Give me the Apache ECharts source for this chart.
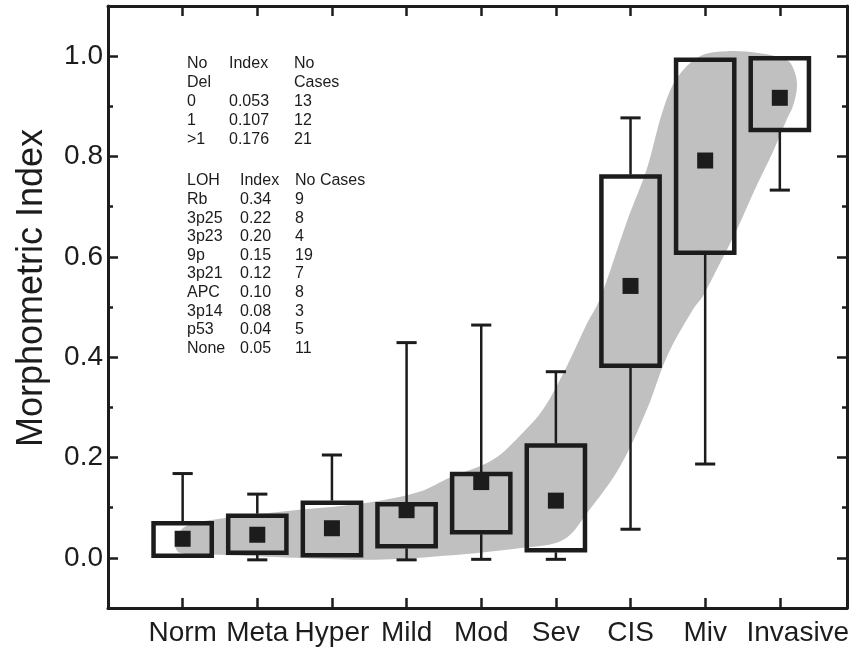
<!DOCTYPE html>
<html>
<head>
<meta charset="utf-8">
<script src="https://cdn.jsdelivr.net/npm/echarts@6/dist/echarts.min.js"></script>
<style>
html, body { margin: 0; padding: 0; background: #fff; }
#main { width: 856px; height: 651px; }
</style>
</head>
<body>
<div id="main"></div>
<script>
var categories = ['Norm', 'Meta', 'Hyper', 'Mild', 'Mod', 'Sev', 'CIS', 'Miv', 'Invasive'];
var whiskerLow = [null, -0.004, null, -0.004, -0.003, -0.003, 0.057, 0.187, 0.733];
var boxLow = [0.0, 0.006, 0.001, 0.019, 0.047, 0.011, 0.379, 0.604, 0.849];
var boxHigh = [0.073, 0.088, 0.114, 0.111, 0.171, 0.228, 0.764, 0.997, 1.0];
var whiskerHigh = [0.168, 0.127, 0.205, 0.429, 0.464, 0.371, 0.877, null, null];
var meanIndex = [0.038, 0.046, 0.059, 0.095, 0.151, 0.114, 0.542, 0.792, 0.917];

// grey trend band: upper edge left->right, lower edge right->left
var bandUpper = [[0.90, 0.03], [1.03, 0.062], [1.50, 0.078], [2.50, 0.095], [3.48, 0.11],
    [4.18, 0.132], [4.58, 0.16], [5.16, 0.196], [5.56, 0.25], [5.83, 0.296], [6.15, 0.383],
    [6.42, 0.468], [6.59, 0.516], [6.95, 0.67], [7.22, 0.776], [7.43, 0.89], [7.62, 0.956],
    [7.93, 1.0], [8.29, 1.01], [8.73, 1.006], [9.10, 0.992], [9.20, 0.968]];
var bandLower = [[9.23, 0.94], [9.18, 0.902], [9.10, 0.876], [8.91, 0.81], [8.69, 0.742],
    [8.43, 0.656], [8.16, 0.576], [7.97, 0.522], [7.84, 0.496], [7.49, 0.402], [7.22, 0.296],
    [6.86, 0.182], [6.42, 0.09], [6.10, 0.036], [5.56, 0.02], [4.35, 0.002], [3.48, -0.004],
    [2.50, 0.0], [1.50, 0.006], [0.96, 0.01]];

var delRows = [['No', 'Index', 'No'], ['Del', '', 'Cases'], ['0', '0.053', '13'], ['1', '0.107', '12'], ['>1', '0.176', '21']];
var lohRows = [['LOH', 'Index', 'No Cases'], ['Rb', '0.34', '9'], ['3p25', '0.22', '8'], ['3p23', '0.20', '4'],
    ['9p', '0.15', '19'], ['3p21', '0.12', '7'], ['APC', '0.10', '8'], ['3p14', '0.08', '3'],
    ['p53', '0.04', '5'], ['None', '0.05', '11']];

var ink = '#1c1c1c';
var font = "'Liberation Sans', Arial, Helvetica, sans-serif";

function $each(arr, fn) { for (var i = 0; i < arr.length; i++) fn(arr[i], i); }

function tableText(rows, cols, top, step) {
    var out = [];
    $each(rows, function (r, ri) {
        $each(r, function (txt, ci) {
            if (!txt) return;
            out.push({
                type: 'text',
                left: cols[ci],
                top: top + ri * step - 9,
                silent: true,
                style: {text: txt, fill: ink, font: '16px ' + font}
            });
        });
    });
    return out;
}

var boxData = [];
var meanData = [];
$each(categories, function (c, i) {
    boxData.push([i + 1, boxLow[i], boxHigh[i]]);
    meanData.push([i + 1, meanIndex[i]]);
});

function renderBand(params, api) {
    var pts = bandUpper.concat(bandLower).map(function (p) { return api.coord(p); });
    return {type: 'polygon', shape: {points: pts, smooth: 0.35}, style: {fill: '#c0c0c0'}};
}

function renderBox(params, api) {
    var i = params.dataIndex;
    var x = api.value(0);
    var halfW = api.size([0.78, 0])[0] / 2;
    var capW = api.size([0.27, 0])[0] / 2;
    var pLo = api.coord([x, api.value(1)]);
    var pHi = api.coord([x, api.value(2)]);
    var children = [];
    var line = {stroke: ink, lineWidth: 2.5};
    if (whiskerHigh[i] != null) {
        var w = api.coord([x, whiskerHigh[i]]);
        children.push({type: 'line', shape: {x1: w[0], y1: pHi[1], x2: w[0], y2: w[1]}, style: line});
        children.push({type: 'line', shape: {x1: w[0] - capW, y1: w[1], x2: w[0] + capW, y2: w[1]}, style: {stroke: ink, lineWidth: 3}});
    }
    if (whiskerLow[i] != null) {
        var v = api.coord([x, whiskerLow[i]]);
        children.push({type: 'line', shape: {x1: v[0], y1: pLo[1], x2: v[0], y2: v[1]}, style: line});
        children.push({type: 'line', shape: {x1: v[0] - capW, y1: v[1], x2: v[0] + capW, y2: v[1]}, style: {stroke: ink, lineWidth: 3}});
    }
    children.push({
        type: 'rect',
        shape: {x: pLo[0] - halfW, y: pHi[1] + 2, width: halfW * 2, height: pLo[1] - pHi[1] - 4},
        style: {fill: 'none', stroke: ink, lineWidth: 4.5}
    });
    return {type: 'group', children: children};
}

// grid 0: frame, minor ticks (every 0.1), labels; grid 1: major ticks (auto 0.2 step)
function yAxisMinor(pos, showLabel) {
    return {
        gridIndex: 0, type: 'value', position: pos, min: -0.1, max: 1.1, interval: 0.1,
        name: showLabel ? 'Morphometric Index' : '',
        nameLocation: 'middle', nameGap: 58,
        nameTextStyle: {fontSize: 36, color: ink, fontFamily: font, padding: [0, 0, 0, 38]},
        axisLine: {show: true, onZero: false, lineStyle: {color: ink, width: 3}},
        axisTick: {show: true, inside: true, length: 5, lineStyle: {color: ink, width: 2.5}},
        axisLabel: {
            show: showLabel, margin: 5, fontSize: 28, color: ink, fontFamily: font,
            formatter: function (v) {
                var k = Math.round(v * 10);
                return (k >= 0 && k <= 10 && k % 2 === 0) ? (k / 10).toFixed(1) : '';
            }
        },
        splitLine: {show: false}
    };
}
function yAxisMajor(pos) {
    return {
        gridIndex: 1, type: 'value', position: pos, min: -0.1, max: 1.1, splitNumber: 6,
        axisLine: {show: false},
        axisTick: {show: true, inside: true, length: 10, lineStyle: {color: ink, width: 2.5}},
        axisLabel: {show: false},
        splitLine: {show: false}
    };
}

function xAxisOne(pos, showLabel) {
    return {
        gridIndex: 0, type: 'value', position: pos, min: 0, max: 9.9, interval: 1,
        axisLine: {show: true, onZero: false, lineStyle: {color: ink, width: 3}},
        axisTick: {show: true, inside: true, length: 10, lineStyle: {color: ink, width: 2.5}},
        axisLabel: {
            show: showLabel, margin: 11, fontSize: 28, color: ink, fontFamily: font,
            formatter: function (v) {
                var c = categories[Math.round(v) - 1];
                if (Math.abs(v - Math.round(v)) > 0.01 || !c) return '';
                return c === 'Invasive' ? '{shift|' + c + '}' : c;
            },
            rich: {shift: {fontSize: 28, color: ink, fontFamily: font, padding: [0, 0, 0, 36]}}
        },
        splitLine: {show: false}
    };
}

var gridBox = {left: 108, right: 9, top: 6, bottom: 43, containLabel: false};

var chart = echarts.init(document.getElementById('main'));
chart.setOption({
    animation: false,
    backgroundColor: '#fff',
    grid: [gridBox, gridBox],
    xAxis: [xAxisOne('bottom', true), xAxisOne('top', false),
        {gridIndex: 1, type: 'value', min: 0, max: 9.9, show: false}],
    yAxis: [yAxisMinor('left', true), yAxisMinor('right', false), yAxisMajor('left'), yAxisMajor('right')],
    graphic: tableText(delRows, [187, 229, 294], 65, 18.8)
        .concat(tableText(lohRows, [187, 240, 295], 182, 18.6)),
    series: [{
        type: 'custom',
        renderItem: renderBand,
        data: [[0]],
        silent: true,
        z: 1
    }, {
        type: 'custom',
        renderItem: renderBox,
        encode: {x: 0, y: [1, 2]},
        data: boxData,
        z: 2
    }, {
        type: 'scatter',
        symbol: 'rect',
        symbolSize: 16,
        itemStyle: {color: ink, opacity: 1},
        data: meanData,
        z: 3
    }]
});
</script>
</body>
</html>
